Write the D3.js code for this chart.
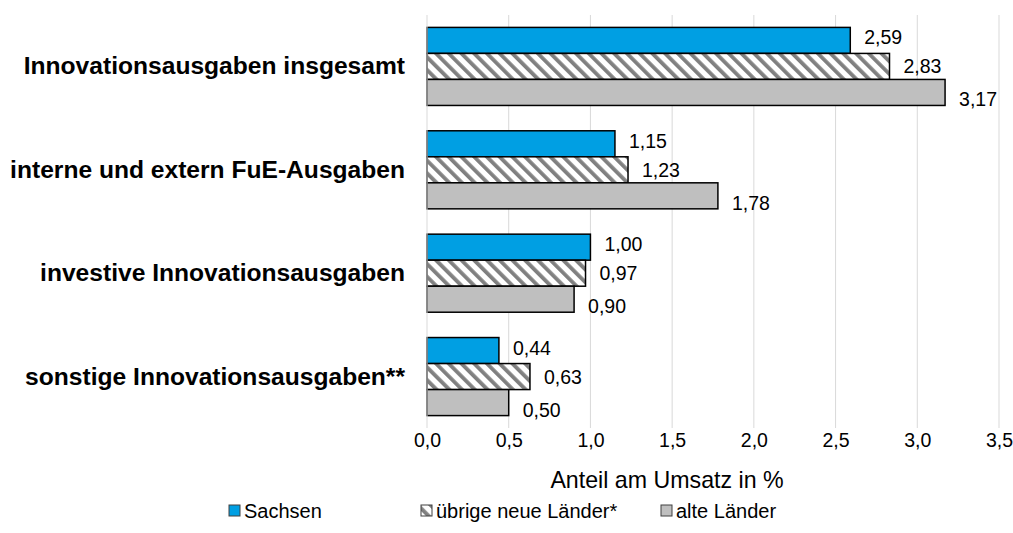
<!DOCTYPE html>
<html>
<head>
<meta charset="utf-8">
<script src="https://cdn.jsdelivr.net/npm/d3@7"></script>
<style>
  body { margin: 0; background: #fff; }
  text { font-family: "Liberation Sans", Arial, sans-serif; fill: #000; }
</style>
</head>
<body>
<svg id="chart" width="1013" height="533"></svg>
<script>
const categories = [
  "Innovationsausgaben insgesamt",
  "interne und extern FuE-Ausgaben",
  "investive Innovationsausgaben",
  "sonstige Innovationsausgaben**"
];
const seriesNames = ["Sachsen", "übrige neue Länder*", "alte Länder"];
const sachsen = [2.59, 1.15, 1.00, 0.44];
const uebrigeNeue = [2.83, 1.23, 0.97, 0.63];
const alteLaender = [3.17, 1.78, 0.90, 0.50];
const xTicks = [0, 0.5, 1, 1.5, 2, 2.5, 3, 3.5];

const seriesValues = [sachsen, uebrigeNeue, alteLaender];
const fills = ["#009fe3", "url(#hatch)", "#bfbfbf"];
// label nudges per series (Excel places them a bit unevenly)
const labelDy = [-3, 0, 7];

const svg = d3.select("#chart");
const fmt = v => d3.format(".2f")(v).replace(".", ",");
const tickFmt = v => d3.format(".1f")(v).replace(".", ",");

// hatch pattern
const defs = svg.append("defs");
const pat = defs.append("pattern")
  .attr("id", "hatch")
  .attr("patternUnits", "userSpaceOnUse")
  .attr("width", 9)
  .attr("height", 9)
  .attr("patternTransform", "rotate(-45)");
pat.append("rect").attr("width", 9).attr("height", 9).attr("fill", "#fff");
pat.append("rect").attr("x", 0).attr("width", 3.8).attr("height", 9).attr("fill", "#808080");

const x = d3.scaleLinear().domain([0, 3.5]).range([427, 999]);
const y = d3.scaleBand().domain(categories).range([15, 428]).paddingInner(0.245).paddingOuter(0.12);
const ySub = d3.scaleBand().domain(d3.range(3)).range([0, y.bandwidth()]);

// gridlines
svg.append("g")
  .selectAll("line")
  .data(xTicks.slice(1))
  .join("line")
  .attr("x1", d => x(d)).attr("x2", d => x(d))
  .attr("y1", 15).attr("y2", 428)
  .attr("stroke", "#d9d9d9").attr("stroke-width", 1);

// bars
categories.forEach((cat, ci) => {
  const g = svg.append("g").attr("transform", `translate(0,${y(cat)})`);
  seriesValues.forEach((vals, si) => {
    g.append("rect")
      .attr("x", x(0))
      .attr("y", ySub(si))
      .attr("width", x(vals[ci]) - x(0))
      .attr("height", ySub.bandwidth())
      .attr("fill", fills[si])
      .attr("stroke", "#000")
      .attr("stroke-width", 1.5);
    g.append("text")
      .attr("x", x(vals[ci]) + 14)
      .attr("y", ySub(si) + ySub.bandwidth() / 2 + labelDy[si] + 7)
      .attr("font-size", 19.5)
      .text(fmt(vals[ci]));
  });
});

// vertical axis line
svg.append("line")
  .attr("x1", x(0)).attr("x2", x(0))
  .attr("y1", 15).attr("y2", 428)
  .attr("stroke", "#d9d9d9").attr("stroke-width", 1);

// category labels
svg.append("g")
  .selectAll("text")
  .data(categories)
  .join("text")
  .attr("x", 405)
  .attr("y", d => y(d) + y.bandwidth() / 2 + 8)
  .attr("text-anchor", "end")
  .attr("font-size", 24.6)
  .attr("font-weight", "bold")
  .text(d => d);

// x axis
const xAxis = d3.axisBottom(x).tickValues(xTicks).tickFormat(tickFmt).tickSize(0).tickPadding(5);
const ax = svg.append("g").attr("transform", "translate(0,428)").call(xAxis);
ax.select(".domain").remove();
ax.selectAll("text").attr("font-size", 19.5);

svg.append("text")
  .attr("x", 667).attr("y", 488)
  .attr("text-anchor", "middle")
  .attr("font-size", 23.2)
  .text("Anteil am Umsatz in %");

// legend
const legendX = [229, 421, 661];
const leg = svg.append("g")
  .selectAll("g")
  .data(seriesNames)
  .join("g")
  .attr("transform", (d, i) => `translate(${legendX[i]},511)`);
leg.append("rect")
  .attr("x", 0).attr("y", -6).attr("width", 11).attr("height", 11)
  .attr("fill", (d, i) => fills[i])
  .attr("stroke", "#404040").attr("stroke-width", 1);
leg.append("text")
  .attr("x", 15).attr("y", 7)
  .attr("font-size", 20)
  .text(d => d);
</script>
</body>
</html>
